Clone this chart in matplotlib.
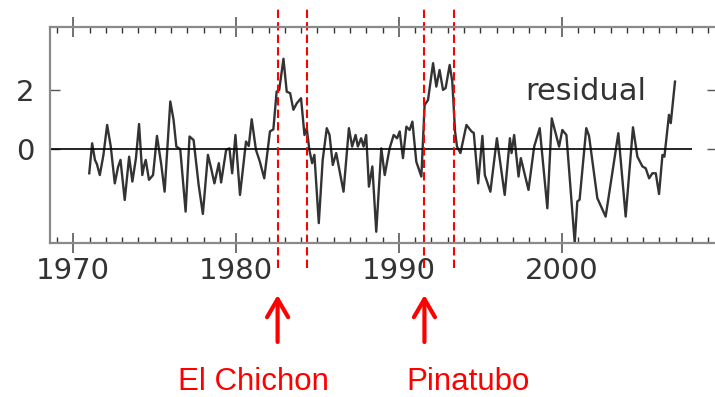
import matplotlib
matplotlib.use("Agg")
import matplotlib.pyplot as plt
from matplotlib.ticker import MultipleLocator, FixedLocator

# Residual series
years = [1970.98, 1971.16, 1971.33, 1971.45, 1971.63, 1971.85, 1972.08, 1972.3, 1972.55, 1972.75,
         1972.9, 1973.16, 1973.43, 1973.63, 1973.85, 1974.04, 1974.24, 1974.35, 1974.45, 1974.65,
         1974.9, 1975.14, 1975.4, 1975.61, 1975.8, 1975.96, 1976.16, 1976.33, 1976.45, 1976.57,
         1976.9, 1977.14, 1977.39, 1977.7, 1977.96, 1978.27, 1978.45, 1978.67, 1978.94, 1979.08,
         1979.39, 1979.59, 1979.76, 1979.96, 1980.24, 1980.61, 1980.78, 1980.96, 1981.22, 1981.45,
         1981.73, 1982.08, 1982.29, 1982.49, 1982.65, 1982.91, 1983.11, 1983.32, 1983.52, 1983.73,
         1983.99, 1984.2, 1984.34, 1984.5, 1984.67, 1984.81, 1985.08, 1985.32, 1985.57, 1985.74,
         1985.94, 1986.15, 1986.35, 1986.6, 1986.93, 1987.13, 1987.34, 1987.48, 1987.68, 1987.83,
         1987.99, 1988.16, 1988.37, 1988.61, 1988.92, 1989.13, 1989.43, 1989.68, 1989.89, 1990.05,
         1990.25, 1990.46, 1990.66, 1990.83, 1991.07, 1991.38, 1991.58, 1991.79, 1992.1, 1992.3,
         1992.5, 1992.71, 1992.87, 1993.12, 1993.28, 1993.45, 1993.57, 1993.78, 1994.15, 1994.46,
         1994.6, 1994.87, 1995.13, 1995.28, 1995.62, 1996.02, 1996.5, 1996.82, 1996.92, 1997.08,
         1997.35, 1997.49, 1997.96, 1998.31, 1998.65, 1999.12, 1999.39, 1999.84, 2000.04, 2000.29,
         2000.8, 2000.96, 2001.1, 2001.51, 2001.68, 2002.19, 2002.7, 2003.48, 2003.93, 2004.38,
         2004.65, 2004.96, 2005.16, 2005.37, 2005.57, 2005.78, 2005.98, 2006.19, 2006.31, 2006.59,
         2006.7, 2006.96]
residual = [-0.81, 0.20, -0.36, -0.50, -0.87, -0.20, 0.82, 0.10, -1.15, -0.60,
            -0.36, -1.71, -0.25, -1.09, -0.30, 0.85, -0.87, -0.55, -0.36, -1.03,
            -0.87, 0.45, -0.50, -1.43, 0.20, 1.61, 0.99, 0.09, 0.05, 0.00,
            -2.10, 0.43, 0.31, -1.20, -2.18, -0.19, -0.60, -1.15, -0.47, -1.12,
            -0.02, 0.03, -0.81, 0.48, -1.54, 0.26, 0.11, 1.01, -0.02, -0.40,
            -0.98, 0.60, 0.67, 1.94, 2.00, 3.05, 1.94, 1.89, 1.33, 1.55,
            1.72, 0.48, 0.71, -0.02, -0.47, -0.19, -2.49, -0.36, 0.71, 0.48,
            -0.53, -0.13, -0.70, -1.43, 0.71, 0.09, 0.48, 0.09, 0.37, 0.09,
            0.48, -1.26, -0.58, -2.78, 0.03, -0.87, 0.03, 0.48, 0.37, 0.60,
            -0.30, 0.76, 0.65, 0.93, -0.42, -0.92, 1.49, 1.66, 2.90, 2.11,
            2.67, 2.00, 2.06, 2.84, 2.28, 0.60, 0.09, -0.13, 0.82, 0.60,
            0.55, -1.15, 0.45, -0.87, -1.43, 0.37, -1.54, 0.37, -0.13, 0.48,
            -0.92, -0.30, -1.37, 0.09, 0.71, -1.99, 1.04, 0.09, 0.65, 0.48,
            -3.15, -1.76, -1.70, 0.71, 0.45, -1.65, -2.27, 0.54, -2.27, 0.74,
            -0.25, -0.58, -0.64, -0.98, -0.81, -0.81, -1.51, -0.19, -0.25, 1.16,
            0.88, 2.28]

# Volcanic windows
eruption_names = ["El Chichon", "Pinatubo"]
eruption_start = [1982.55, 1991.57]
eruption_end = [1984.36, 1993.36]

x_ticks = [1970, 1980, 1990, 2000]
y_ticks = [0, 2]

fig = plt.figure(figsize=(7.15, 3.97), dpi=100)
ax = fig.add_axes([50 / 715, 154 / 397, 667 / 715, 216 / 397])

ax.plot(years, residual, color="#333333", lw=1.7, solid_joinstyle="round")
ax.hlines(0, 1968.57, 2008.0, color="black", lw=1.2)

ax.text(2001.5, 1.93, "residual", fontsize=22, color="#333333", ha="center", va="center")

ax.set_xlim(1968.57, 2009.54)
ax.set_ylim(-3.16, 4.12)

ax.xaxis.set_major_locator(FixedLocator(x_ticks))
ax.xaxis.set_minor_locator(MultipleLocator(1))
ax.yaxis.set_major_locator(FixedLocator(y_ticks))
ax.tick_params(axis="x", which="major", direction="inout", length=14, width=1.3,
               color="#666666", top=True, labelsize=21, labelcolor="#333333", pad=3)
ax.tick_params(axis="x", which="minor", direction="in", length=4.5, width=1.0,
               color="#333333", top=True)
ax.tick_params(axis="y", which="major", direction="in", length=7, width=1.0,
               color="#555555", right=True, labelsize=21, labelcolor="#333333", pad=11)
for s in ax.spines.values():
    s.set_color("#8a8a8a")
    s.set_linewidth(1.6)

# dashed windows and arrows
for name, x0, x1 in zip(eruption_names, eruption_start, eruption_end):
    for xv in (x0, x1):
        ax.axvline(xv, ymin=-0.115, ymax=1.088, color="red", lw=1.5,
                   ls=(0, (4, 2)), clip_on=False)
    ax.annotate("", xy=(x0, 1 - 295 / 397), xytext=(x0, 1 - 342 / 397),
                xycoords=("data", "figure fraction"),
                arrowprops=dict(arrowstyle="->,head_length=0.65,head_width=0.38",
                                color="red", lw=3, mutation_scale=20,
                                shrinkA=0, shrinkB=0))

fig.text(253 / 715, 1 - 390 / 397, eruption_names[0], color="red", fontsize=22.5,
         family="Liberation Sans", ha="center", va="baseline")
fig.text(468 / 715, 1 - 390 / 397, eruption_names[1], color="red", fontsize=22.5,
         family="Liberation Sans", ha="center", va="baseline")

fig.savefig("out.png", dpi=100)
